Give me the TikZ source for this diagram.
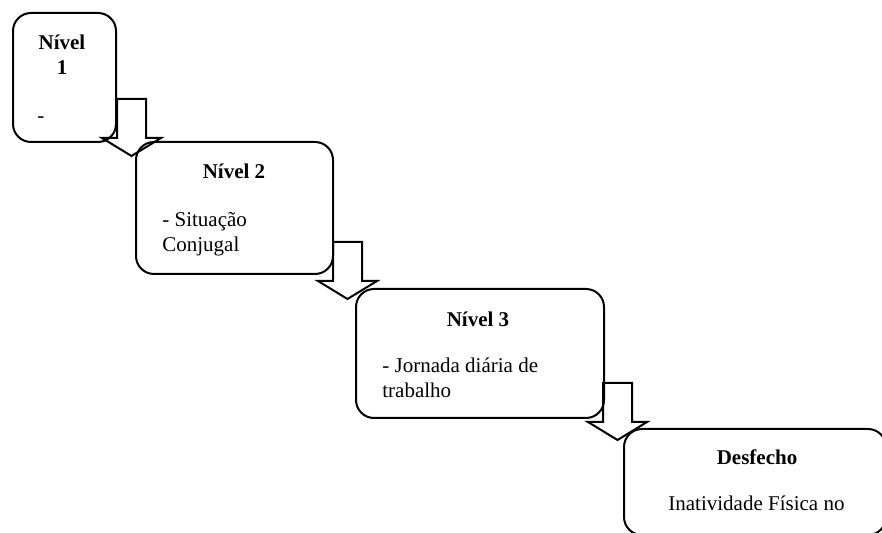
\documentclass[tikz,border=0pt]{standalone}
\usepackage{fontspec}
\setmainfont{Liberation Serif}
\usetikzlibrary{positioning}
\definecolor{ink}{HTML}{000000}

\begin{document}
\begin{tikzpicture}[x=0.5pt,y=-0.5pt,
  caixa/.style={draw=ink,line width=1pt,rounded corners=9pt,anchor=north west,inner sep=0pt},
  titulo/.style={font=\fontsize{10.5}{12.5}\selectfont\bfseries,align=center,anchor=base,inner sep=0pt},
  corpo/.style={font=\fontsize{10.5}{12.5}\selectfont,align=left,anchor=base west,inner sep=0pt},
  seta/.style={draw=ink,line width=1pt,fill=white,line join=miter}]
\clip (0,0) rectangle (882,533);
\foreach \x/\y in {117/99,333/242,603/383}
  \draw[seta] (\x,\y) -- ++(29,0) -- ++(0,39) -- ++(15,0) -- ++(-29.5,18) -- ++(-29.5,-18) -- ++(15,0) -- cycle;
\node[caixa,minimum width=51.5pt,minimum height=64.5pt] (n1) at (12,12) {};
\node[caixa,minimum width=98.5pt,minimum height=66pt] (n2) at (135,141) {};
\node[caixa,minimum width=124pt,minimum height=64.5pt] (n3) at (355,288) {};
\node[caixa,minimum width=131pt,minimum height=53pt] (n4) at (623,428) {};
\node[titulo] (t1) at (62,75) {Nível\\1};\node[corpo] (c1) at (37,123) {-};
\node[titulo] (t2) at (234,179) {Nível 2};\node[corpo] (c2) at (162,252) {- Situação\\Conjugal};
\node[titulo] (t3) at (478,327) {Nível 3};\node[corpo] (c3) at (382,398) {- Jornada diária de\\trabalho};
\node[titulo] (t4) at (757,465) {Desfecho};\node[corpo] (c4) at (668,510) {Inatividade Física no};
\end{tikzpicture}
\end{document}
